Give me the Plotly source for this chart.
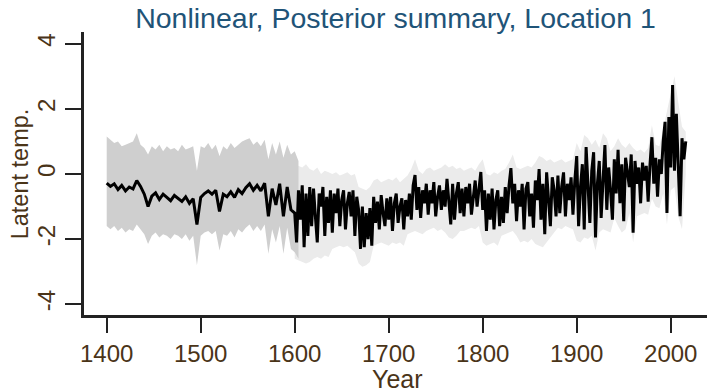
import plotly.graph_objects as go

# ---------------- data ----------------
band_years_early = list(range(1400, 1605, 4))
band_upper_early = [1.15, 1.05, 0.95, 1.0, 0.85, 0.9, 0.95, 1.0, 1.25, 0.9,
                    0.8, 0.6, 0.85, 0.75, 0.9, 0.7, 0.85, 0.75, 0.8, 0.7,
                    0.9, 0.75, 0.8, 0.85, 0.1, 0.85, 0.8, 0.95, 0.75, 0.9,
                    0.55, 0.85, 0.75, 0.95, 0.8, 0.9, 1.0, 1.05, 1.1, 0.9,
                    1.0, 0.85, 1.05, 0.45, 0.95, 0.6, 1.0, 0.5, 0.9, 0.6,
                    0.7, 0.4]
band_lower_early = [-1.6, -1.7, -1.6, -1.75, -1.65, -1.8, -1.7, -1.75, -1.55, -1.7,
                    -1.85, -2.15, -1.9, -1.8, -1.95, -1.85, -1.9, -2.0, -1.85, -1.9,
                    -2.0, -1.85, -2.05, -1.9, -2.8, -1.9, -1.8, -1.75, -1.85, -1.75,
                    -2.35, -1.85, -1.9, -1.75, -1.95, -1.7, -1.8, -1.65, -1.55, -1.75,
                    -1.6, -1.75, -1.55, -2.45, -1.7, -2.1, -1.6, -2.45, -1.65, -2.3,
                    -2.4, -2.6]

band_years_late = list(range(1600, 2017, 4))
band_upper_late = [0.3, 0.25, 0.2, 0.3, 0.15, 0.1, 0.2, 0.0, 0.1, 0.05,
                   0.0, 0.05, -0.05, 0.0, 0.05, -0.05, 0.0, -0.4, -0.45, -0.5,
                   -0.4, -0.2, -0.15, -0.25, -0.2, -0.15, -0.2, -0.1, -0.25, -0.15,
                   -0.05, 0.15, 0.45, 0.1, 0.0, 0.15, 0.2, 0.1, 0.15, 0.2,
                   0.3, 0.2, 0.25, 0.15, 0.2, 0.1, 0.15, 0.2, 0.1, 0.3,
                   0.45, 0.0, -0.05, 0.05, 0.0, 0.1, 0.15, 0.35, 0.6, 0.2,
                   0.15, 0.2, 0.25, 0.2, 0.35, 0.55, 0.5, 0.4, 0.45, 0.35,
                   0.4, 0.45, 0.35, 0.4, 0.45, 0.95, 0.7, 1.2, 1.1, 0.9,
                   1.05, 0.8, 1.25, 1.1, 0.7, 0.85, 1.1, 0.9, 0.8, 0.95,
                   0.8, 0.7, 0.75, 0.65, 0.8, 1.5, 0.9, 0.85, 1.4, 2.0,
                   2.5, 3.0, 2.2, 1.45, 1.3]
band_lower_late = [-2.6, -2.65, -2.7, -2.75, -2.7, -2.6, -2.55, -2.6, -2.5, -2.55,
                   -2.3, -2.25, -2.2, -2.25, -2.2, -2.3, -2.4, -2.75, -2.85, -2.8,
                   -2.7, -2.2, -2.15, -2.1, -2.15, -2.2, -2.1, -2.15, -2.1, -2.2,
                   -1.85, -1.8, -1.75, -1.8, -1.85, -1.75, -1.7, -1.65, -1.75, -1.7,
                   -1.8, -1.95, -2.0, -1.9, -1.75, -1.75, -1.7, -1.65, -1.7, -1.6,
                   -2.1, -2.2, -2.15, -2.1, -2.2, -1.9, -1.85, -1.8, -1.75, -1.9,
                   -2.1, -2.05, -2.1, -2.0, -2.15, -2.2, -2.25, -2.1, -1.95, -1.8,
                   -1.65, -1.7, -1.6, -1.65, -1.7, -2.05, -2.1, -1.95, -2.0, -1.9,
                   -2.35, -1.8, -1.7, -1.75, -1.8, -1.35, -1.6, -1.8, -1.7, -1.2,
                   -2.1, -1.3, -1.25, -1.2, -1.25, -0.75, -1.0, -1.05, -0.6, -1.55,
                   -0.5, -0.4, -1.3, -1.7, 0.0]

mean_years_early = list(range(1400, 1600, 4))
mean_early = [-0.28, -0.38, -0.30, -0.48, -0.35, -0.52, -0.40, -0.46, -0.20, -0.38,
              -0.62, -1.00, -0.68, -0.58, -0.78, -0.62, -0.72, -0.82, -0.66, -0.74,
              -0.84, -0.70, -0.90, -0.76, -1.55, -0.72, -0.60, -0.52, -0.62, -0.50,
              -1.15, -0.62, -0.70, -0.55, -0.72, -0.48, -0.60, -0.42, -0.30, -0.50,
              -0.35, -0.52, -0.28, -1.30, -0.45, -0.95, -0.30, -1.30, -0.40, -1.10]

mean_years_late = list(range(1600, 2017, 2))
mean_late = [-1.2, -2.1, -0.5, -1.4, -0.35, -2.25, -0.6, -1.9, -0.4, -1.6,
             -0.45, -1.3, -2.1, -0.6, -1.0, -0.4, -1.9, -0.7, -1.5, -0.5,
             -1.8, -0.6, -1.2, -0.45, -1.6, -0.8, -0.5, -1.7, -0.9, -0.55,
             -1.3, -0.5, -1.9, -0.7, -1.1, -2.3, -1.0, -2.25, -1.2, -2.0,
             -1.05, -2.2, -0.7, -1.5, -0.85, -1.7, -0.65, -1.2, -1.6, -0.75,
             -1.4, -0.7, -1.75, -0.9, -0.6, -1.5, -1.0, -0.75, -1.7, -0.8,
             -1.3, -0.6, -1.4, -0.35, -0.03, -1.1, -0.4, -1.35, -0.5, -0.9,
             -0.3, -1.25, -0.5, -0.9, -0.25, -1.3, -0.7, -0.35, -1.1, -0.5,
             -1.0, -0.15, -0.8, -1.55, -0.3, -1.4, -0.6, -0.25, -1.2, -0.45,
             -1.3, -0.4, -0.9, -0.3, -1.25, -0.6, -0.2, -1.0, -0.35, 0.06,
             -1.1, -0.5, -1.75, -0.6, -1.4, -0.45, -1.7, -0.8, -0.5, -1.6,
             -0.7, -1.5, -0.4, -1.2, -0.35, 0.18, -0.9, -0.3, -1.45, -0.5,
             -1.0, -0.3, -1.7, -0.45, -0.25, -1.3, -0.6, -1.65, -0.2, -0.8,
             0.15, -1.4, -0.3, -1.85, 0.05, -0.9, -1.6, -0.1, -0.5, -1.3,
             -0.05, -1.2, -0.4, 0.05, -1.3, -0.3, -0.8, -0.1, -1.25, -0.2,
             0.55, -1.6, -0.4, 0.3, -1.7, 0.83, -0.6, -1.5, 0.1, 0.67,
             -1.95, -0.3, 0.4, -1.35, -0.2, 0.89, -1.1, 0.2, -0.5, -1.4,
             0.45, -0.6, 0.74, -0.9, 0.3, -1.45, 0.5, 0.1, -0.4, 0.6,
             -1.8, 0.4, -0.3, 0.2, -0.9, 0.35, -0.2, 0.25, -0.85, 0.3,
             1.13, -0.3, 0.5, -0.7, 0.45, 0.0, 1.0, 1.6, -1.2, 1.75,
             0.2, 2.73, 0.1, 1.85, 0.0, -1.3, 1.1, 0.45, 1.0]

x_ticks = [1400, 1500, 1600, 1700, 1800, 1900, 2000]
y_ticks = [-4, -2, 0, 2, 4]
y_tick_text = ["-4", "-2", "0", "2", "4"]

title_text = "Nonlinear, Posterior summary, Location 1"
x_title = "Year"
y_title = "Latent temp."

# ---------------- figure ----------------
FONT = "Liberation Sans, Arial, sans-serif"
TITLE_COL = "#1f5478"
TEXT_COL = "#4a3418"
AX_COL = "#222222"

fig = go.Figure()


def add_band(years, upper, lower, color):
    fig.add_trace(go.Scatter(
        x=years + years[::-1], y=upper + lower[::-1],
        fill="toself", fillcolor=color, mode="lines",
        line=dict(width=0, color=color), hoverinfo="skip", showlegend=False))


add_band(band_years_late, band_upper_late, band_lower_late, "#ebebeb")
add_band(band_years_early, band_upper_early, band_lower_early, "#cfcfcf")

fig.add_trace(go.Scatter(
    x=mean_years_early + mean_years_late, y=mean_early + mean_late,
    mode="lines", line=dict(color="black", width=3),
    hoverinfo="skip", showlegend=False))

fig.update_layout(
    width=707, height=392,
    margin=dict(l=84, r=0, t=32, b=77),
    paper_bgcolor="white", plot_bgcolor="white",
    font=dict(family=FONT, color=TEXT_COL),
    title=dict(text=title_text, x=0.5, xref="paper", xanchor="center",
               y=1 - 18 / 392, yref="container", yanchor="middle",
               font=dict(size=28.5, color=TITLE_COL, family=FONT)),
    showlegend=False,
    annotations=[
        dict(text=x_title, xref="paper", yref="paper", x=0.504, y=-0.226,
             xanchor="center", yanchor="middle", showarrow=False,
             font=dict(size=25, color=TEXT_COL, family=FONT)),
        dict(text=y_title, xref="paper", yref="paper", x=-0.103, y=0.5,
             xanchor="center", yanchor="middle", showarrow=False, textangle=-90,
             font=dict(size=23.5, color=TEXT_COL, family=FONT)),
    ],
)

fig.update_xaxes(
    range=[1375.85, 2038.6], tickvals=x_ticks,
    ticks="outside", ticklen=15, tickwidth=2, tickcolor=AX_COL,
    showline=True, linewidth=2.5, linecolor=AX_COL,
    showgrid=False, zeroline=False,
    tickfont=dict(size=24, color=TEXT_COL, family=FONT),
)
fig.update_yaxes(
    range=[-4.33, 4.36], tickvals=y_ticks, ticktext=y_tick_text, tickangle=-90,
    ticks="outside", ticklen=16, tickwidth=2, tickcolor=AX_COL,
    showline=True, linewidth=2.5, linecolor=AX_COL,
    showgrid=False, zeroline=False, ticklabelstandoff=1,
    tickfont=dict(size=24, color=TEXT_COL, family=FONT),
)

fig.write_html("out.html")
